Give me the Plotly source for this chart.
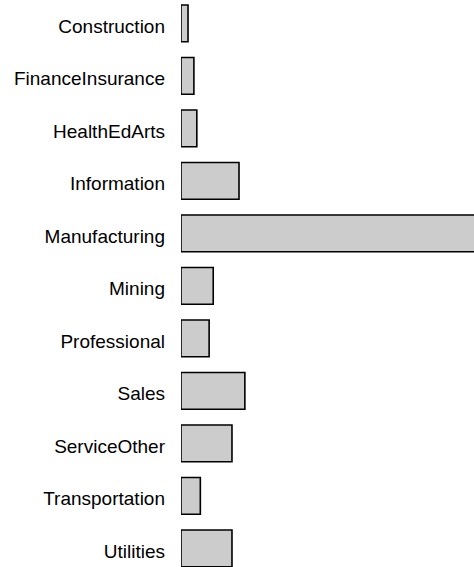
import plotly.graph_objects as go

sectors = ["Construction", "FinanceInsurance", "HealthEdArts", "Information",
           "Manufacturing", "Mining", "Professional", "Sales",
           "ServiceOther", "Transportation", "Utilities"]
values = [1.2, 2.2, 2.7, 9.9, 60.0, 5.5, 4.8, 10.9, 8.7, 3.3, 8.7]

fig = go.Figure(go.Bar(
    x=values, y=sectors, orientation="h",
    marker=dict(color="#cccccc", line=dict(color="#000000", width=1.6)),
))

fig.update_xaxes(visible=False, range=[0, 50], fixedrange=True)
fig.update_yaxes(
    type="category", categoryorder="array", categoryarray=sectors,
    range=[10.356, -0.444], showgrid=False, zeroline=False, showline=False,
    ticks="", ticklabelstandoff=15, ticklabelshift=-3,
    tickfont=dict(family="Liberation Sans, Arial, sans-serif", size=19, color="#000000"),
)

fig.update_layout(
    width=474, height=567,
    margin=dict(l=181, r=0, t=0, b=0),
    bargap=0.3,
    plot_bgcolor="white", paper_bgcolor="white",
    showlegend=False,
)

# page body has a default 8px margin; drop it so the figure fills the window
fig.write_html("out.html", config={"displayModeBar": False},
               post_script="document.body.style.margin='0';document.body.style.overflow='hidden';")
